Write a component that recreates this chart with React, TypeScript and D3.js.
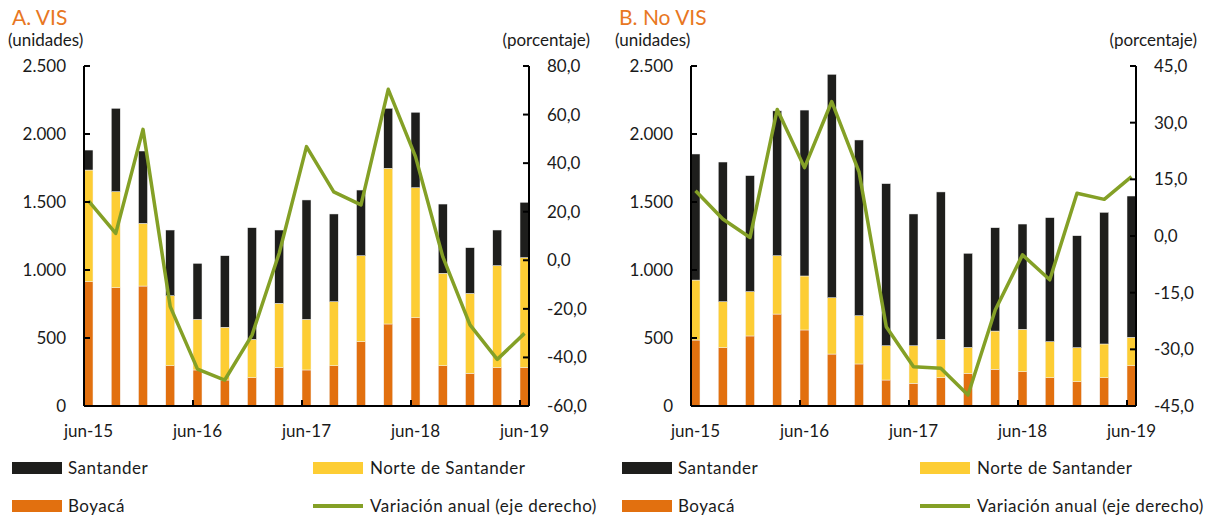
import * as React from 'react';
import * as d3 from 'd3';

const periods = [
  'jun-15', 'sep-15', 'dic-15', 'mar-16', 'jun-16', 'sep-16', 'dic-16', 'mar-17', 'jun-17',
  'sep-17', 'dic-17', 'mar-18', 'jun-18', 'sep-18', 'dic-18', 'mar-19', 'jun-19',
];

// A. VIS (unidades)
const visBoyaca = [914, 870, 882, 296, 265, 191, 208, 282, 265, 296, 473, 603, 649, 296, 240, 282, 282];
const visNorte = [821, 706, 461, 515, 372, 388, 282, 473, 372, 471, 632, 1145, 956, 680, 588, 750, 809];
const visSantander = [147, 613, 532, 483, 412, 526, 821, 539, 878, 645, 483, 441, 555, 509, 336, 262, 407];
// variación anual (porcentaje)
const visVariacion = [24.5, 11.1, 53.9, -19.1, -44.8, -49.3, -30.8, 3.0, 46.8, 28.2, 22.8, 70.4, 42.7, 1.5, -26.6, -40.8, -30.1];

// B. No VIS (unidades)
const noVisBoyaca = [485, 429, 515, 676, 559, 382, 309, 191, 167, 208, 240, 270, 252, 208, 179, 208, 296];
const noVisNorte = [441, 338, 326, 429, 397, 414, 355, 252, 276, 282, 191, 281, 312, 265, 250, 248, 209];
const noVisSantander = [927, 1027, 853, 1065, 1220, 1643, 1292, 1192, 969, 1084, 692, 760, 774, 912, 823, 968, 1039];
const noVisVariacion = [12.0, 4.5, -0.4, 33.5, 18.1, 35.6, 17.0, -24.0, -34.6, -35.0, -42.1, -19.6, -5.0, -11.6, 11.3, 9.7, 15.7];

const unitTicks = [0, 500, 1000, 1500, 2000, 2500];
const visPctTicks = [-60, -40, -20, 0, 20, 40, 60, 80];
const noVisPctTicks = [-45, -30, -15, 0, 15, 30, 45];
const xLabels = ['jun-15', 'jun-16', 'jun-17', 'jun-18', 'jun-19'];

const colors = {
  santander: '#1e1e1c',
  norte: '#fdcd34',
  boyaca: '#e2700f',
  line: '#84a026',
  title: '#e87722',
  text: '#1a1a1a',
};

const font = 'Lato, "Open Sans", sans-serif';

const locale = d3.formatLocale({
  decimal: ',',
  thousands: '.',
  grouping: [3],
  currency: ['', ''],
  minus: '-',
});
const fmtUnits = locale.format(',.0f');
const fmtPct = locale.format('.1f');

const top = 66;
const bottom = 406;

interface PanelProps {
  title: string;
  x0: number;
  x1: number;
  boyaca: number[];
  norte: number[];
  santander: number[];
  variacion: number[];
  pctTicks: number[];
  legendX: number;
  legendX2: number;
}

const Panel: React.FC<PanelProps> = ({
  title, x0, x1, boyaca, norte, santander, variacion, pctTicks, legendX, legendX2,
}) => {
  const rows = periods.map((p, i) => ({
    period: p,
    boyaca: boyaca[i],
    norte: norte[i],
    santander: santander[i],
  }));
  const stack = d3.stack<any>().keys(['boyaca', 'norte', 'santander'])(rows);

  const x = d3.scaleBand(periods, [x0, x1]).paddingInner(0.67).paddingOuter(0).align(0);
  const y = d3.scaleLinear([0, 2500], [bottom, top]);
  const y2 = d3.scaleLinear(d3.extent(pctTicks) as [number, number], [bottom, top]);

  const line = d3
    .line<number>()
    .x((_, i) => (x(periods[i]) ?? 0) + x.bandwidth() / 2)
    .y((d) => y2(d));

  return (
    <g fontFamily={font} fill={colors.text}>
      <text x={x0 - 72} y={25} fontSize={21} fill={colors.title}>{title}</text>
      <text x={x0 - 76} y={46} fontSize={17}>(unidades)</text>
      <text x={x1 + 61} y={46} fontSize={17} textAnchor="end">(porcentaje)</text>

      {stack.map((layer) => (
        <g key={layer.key} fill={(colors as any)[layer.key]}>
          {layer.map((d, i) => (
            <rect
              key={i}
              x={x(periods[i])}
              y={y(d[1])}
              width={x.bandwidth()}
              height={y(d[0]) - y(d[1])}
              stroke="#f2f2f2"
              strokeWidth={0.5}
            />
          ))}
        </g>
      ))}

      <path d={line(variacion) ?? ''} fill="none" stroke={colors.line} strokeWidth={3.5} strokeLinejoin="round" />

      {/* left axis */}
      <line x1={x0} x2={x0} y1={top} y2={bottom} stroke="#000" strokeWidth={2} />
      {unitTicks.map((t) => (
        <g key={t}>
          <line x1={x0} x2={x0 + 6} y1={y(t)} y2={y(t)} stroke="#000" strokeWidth={2} />
          <text x={x0 - 18} y={y(t) + 6} fontSize={17} textAnchor="end">{fmtUnits(t)}</text>
        </g>
      ))}

      {/* right axis */}
      <line x1={x1} x2={x1} y1={top} y2={bottom} stroke="#000" strokeWidth={2} />
      {pctTicks.map((t) => (
        <g key={t}>
          <line x1={x1 - 6} x2={x1} y1={y2(t)} y2={y2(t)} stroke="#000" strokeWidth={2} />
          <text x={x1 + 18} y={y2(t) + 6} fontSize={17}>{fmtPct(t)}</text>
        </g>
      ))}

      {/* bottom axis */}
      <line x1={x0} x2={x1} y1={bottom} y2={bottom} stroke="#000" strokeWidth={2} />
      {xLabels.map((l) => (
        <g key={l}>
          <line x1={x(l)} x2={x(l)} y1={bottom} y2={bottom - 6} stroke="#000" strokeWidth={2} />
          <text x={(x(l) ?? 0) + x.bandwidth() / 2} y={437} fontSize={17} textAnchor="middle">{l}</text>
        </g>
      ))}

      {/* legend */}
      <g fontSize={17} letterSpacing={0.5}>
        <rect x={legendX} y={462} width={50} height={12} fill={colors.santander} />
        <text x={legendX + 56} y={474}>Santander</text>
        <rect x={legendX2} y={462} width={50} height={12} fill={colors.norte} />
        <text x={legendX2 + 57} y={474}>Norte de Santander</text>
        <rect x={legendX} y={500} width={50} height={12} fill={colors.boyaca} />
        <text x={legendX + 56} y={512}>Boyacá</text>
        <line x1={legendX2} x2={legendX2 + 50} y1={506} y2={506} stroke={colors.line} strokeWidth={4} />
        <text x={legendX2 + 57} y={512}>Variación anual (eje derecho)</text>
      </g>
    </g>
  );
};

const App: React.FC = () => (
  <svg
    width={1215}
    height={520}
    viewBox="0 0 1215 520"
    style={{ position: 'absolute', left: 0, top: 0, background: '#fff' }}
  >
    <Panel
      title="A. VIS"
      x0={84}
      x1={529}
      boyaca={visBoyaca}
      norte={visNorte}
      santander={visSantander}
      variacion={visVariacion}
      pctTicks={visPctTicks}
      legendX={12}
      legendX2={313}
    />
    <Panel
      title="B. No VIS"
      x0={691}
      x1={1136}
      boyaca={noVisBoyaca}
      norte={noVisNorte}
      santander={noVisSantander}
      variacion={noVisVariacion}
      pctTicks={noVisPctTicks}
      legendX={622}
      legendX2={920}
    />
  </svg>
);

export default App;
